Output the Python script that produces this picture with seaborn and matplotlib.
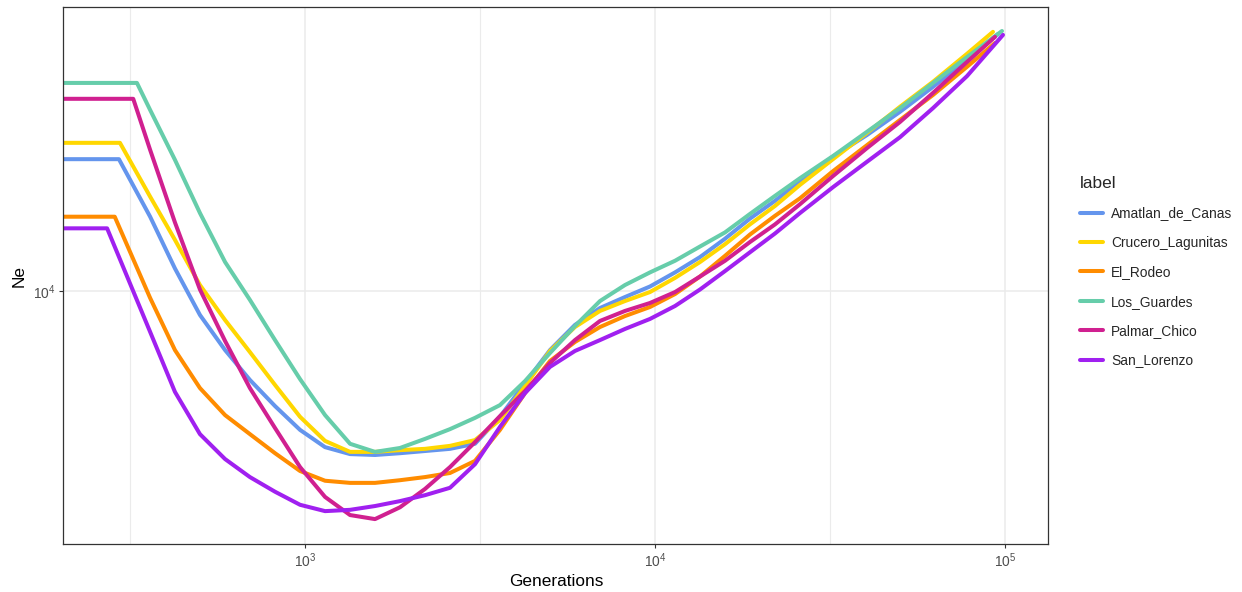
import numpy as np
import pandas as pd
import matplotlib
matplotlib.use("Agg")
import matplotlib.pyplot as plt
from matplotlib.ticker import FixedLocator, NullLocator, FixedFormatter
import seaborn as sns

# ---------------- data ----------------
labels = ["Amatlan_de_Canas", "Crucero_Lagunitas", "El_Rodeo",
          "Los_Guardes", "Palmar_Chico", "San_Lorenzo"]
colors = ["#6495ED", "#FFD700", "#FF8C00", "#66CDAA", "#D02090", "#A020F0"]

gen_start = 170
gen_knee = [294, 296, 286, 331, 323, 272]
gen_grid = [361, 425, 501, 591, 696, 821, 968, 1141, 1345, 1585, 1868, 2203,
            2596, 3060, 3606, 4253, 5012, 5907, 6964, 8209, 9676, 11410,
            13450, 15850, 18680, 22030, 25960, 32260, 40340, 50120, 62270,
            77880]
gen_end = [95500, 92400, 93640, 98040, 93640, 98700]

ne_amatlan = [23800, 23800, 16300, 11600, 8540, 6780, 5570, 4690, 4010, 3580,
              3420, 3400, 3440, 3490, 3540, 3660, 4370, 5460, 6780, 8000, 8940,
              9610, 10300, 11300, 12500, 14100, 16100, 18100, 20600, 24200,
              27900, 32500, 38300, 45700, 54200]
ne_crucero = [26500, 26500, 18600, 14000, 10400, 8260, 6690, 5390, 4370, 3730,
              3470, 3470, 3510, 3540, 3610, 3750, 4280, 5350, 6740, 7890, 8770,
              9360, 9930, 10900, 12100, 13600, 15500, 17500, 20100, 23800,
              28300, 33600, 39600, 47600, 55000]
ne_rodeo = [16300, 16300, 9550, 6780, 5280, 4420, 3900, 3440, 3060, 2870,
            2830, 2830, 2880, 2940, 3020, 3270, 4010, 5110, 6310, 7150, 7890,
            8480, 9000, 9800, 11000, 12600, 14500, 16400, 18400, 22000,
            26100, 30800, 36300, 43700, 51100]
ne_guardes = [39300, 39300, 32900, 23700, 16700, 12100, 9430, 7240, 5600, 4420,
              3660, 3470, 3560, 3780, 4030, 4340, 4720, 5530, 6650, 7940, 9360,
              10400, 11300, 12200, 13400, 14700, 16600, 18700, 21000, 24300,
              28500, 33300, 39300, 46600, 55300]
ne_palmar = [35400, 35400, 25300, 15700, 10100, 7200, 5280, 4060, 3140, 2580,
             2290, 2230, 2410, 2720, 3140, 3700, 4390, 5180, 6230, 7240, 8210,
             8770, 9240, 9930, 11000, 12200, 13800, 15500, 17700, 21300,
             25600, 30400, 36800, 45100, 53200]
ne_sanlorenzo = [15100, 15100, 7640, 5150, 3900, 3310, 2940, 2670, 2450, 2350,
                 2370, 2430, 2510, 2610, 2740, 3200, 4090, 5110, 6070, 6740, 7240,
                 7790, 8320, 9060, 10100, 11400, 12900, 14600, 16700, 19800,
                 23400, 27500, 33300, 41100, 53900]

x_ticks = [1e3, 1e4, 1e5]
x_tick_labels = [r"$10^{3}$", r"$10^{4}$", r"$10^{5}$"]
y_ticks = [1e4]
y_tick_labels = [r"$10^{4}$"]

ne_all = [ne_amatlan, ne_crucero, ne_rodeo, ne_guardes, ne_palmar, ne_sanlorenzo]
rows = []
for lab, kn, en, ne in zip(labels, gen_knee, gen_end, ne_all):
    gens = [gen_start, kn] + gen_grid + [en]
    for g, v in zip(gens, ne):
        rows.append((lab, g, v))
df = pd.DataFrame(rows, columns=["label", "gen", "Ne"])

# ---------------- style ----------------
sns.set_style("white")
plt.rcParams["font.family"] = ["Liberation Sans", "DejaVu Sans"]
plt.rcParams["mathtext.fontset"] = "custom"
plt.rcParams["mathtext.rm"] = "Liberation Sans"
plt.rcParams["mathtext.it"] = "Liberation Sans:italic"

W, H = 1242, 592
fig = plt.figure(figsize=(W / 100, H / 100), dpi=100)
ax = fig.add_axes([63 / W, 1 - 544 / H, (1048 - 63) / W, (544 - 7) / H])

sns.lineplot(data=df, x="gen", y="Ne", hue="label", hue_order=labels,
             palette=dict(zip(labels, colors)), estimator=None,
             linewidth=2.9, ax=ax, legend=True)

ax.set_xscale("log")
ax.set_yscale("log")
ax.set_xlim(203.5, 132700)
ax.set_ylim(1893, 64760)

ax.xaxis.set_major_locator(FixedLocator(x_ticks))
ax.xaxis.set_major_formatter(FixedFormatter(x_tick_labels))
ax.xaxis.set_minor_locator(FixedLocator([10 ** 2.5, 10 ** 3.5, 10 ** 4.5]))
ax.yaxis.set_major_locator(FixedLocator(y_ticks))
ax.yaxis.set_major_formatter(FixedFormatter(y_tick_labels))
ax.yaxis.set_minor_locator(NullLocator())

ax.grid(True, which="major", color="#EBEBEB", linewidth=1.1, zorder=0)
ax.grid(True, which="minor", axis="x", color="#EBEBEB", linewidth=0.8, zorder=0)
ax.set_axisbelow(True)

for sp in ax.spines.values():
    sp.set_visible(True)
    sp.set_color("#333333")
    sp.set_linewidth(0.9)

ax.tick_params(which="major", direction="out", length=3, width=0.8,
               color="#333333", labelcolor="#4D4D4D", labelsize=9.9, pad=2.5,
               bottom=True, left=True)
ax.tick_params(which="minor", length=0)

ax.set_xlabel("")
ax.set_ylabel("")
fig.text(556 / W, 1 - 581 / H, "Generations", ha="center", va="center",
         fontsize=12.4, color="black")
fig.text(19 / W, 1 - 276 / H, "Ne", ha="center", va="center", rotation=90,
         fontsize=12.4, color="black")

handles, labs = ax.get_legend_handles_labels()
ax.get_legend().remove()
leg = fig.legend(handles, labs, loc="upper left",
                 bbox_to_anchor=(1080 / W, 1 - 176 / H), frameon=False,
                 title="label", fontsize=9.9, title_fontsize=12.4,
                 handlelength=1.67, handletextpad=0.6, labelspacing=1.12,
                 borderpad=0, borderaxespad=0, alignment="left")
for h in leg.get_lines():
    h.set_linewidth(2.9)

fig.savefig("out.png", dpi=100)
